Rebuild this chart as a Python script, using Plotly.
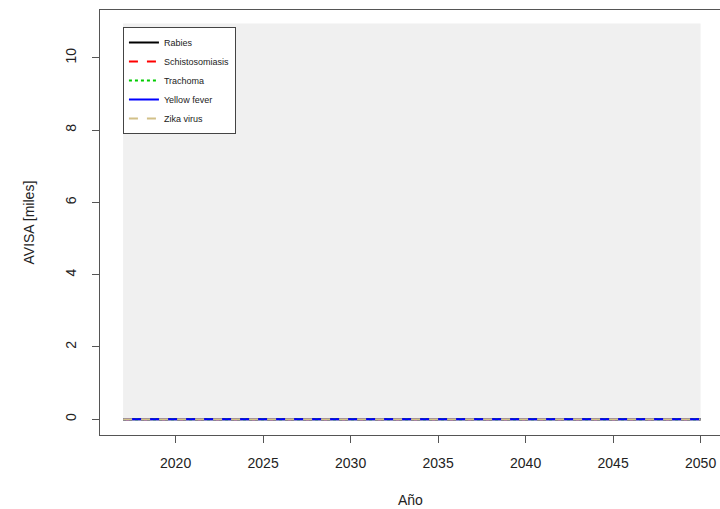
import plotly.graph_objects as go

# Projected burden per disease, in thousands of DALYs (AVISA), 2017-2050
years = list(range(2017, 2051))
rabies = [0.0] * len(years)
schistosomiasis = [0.0] * len(years)
trachoma = [0.0] * len(years)
yellow_fever = [0.0] * len(years)
zika_virus = [0.0] * len(years)

y_upper = 10.95  # upper limit of the shaded panel
y_ticks = [0, 2, 4, 6, 8, 10]
x_ticks = [2020, 2025, 2030, 2035, 2040, 2045, 2050]

series = [
    ("Rabies", rabies, "#000000", "solid", 1),
    ("Schistosomiasis", schistosomiasis, "#ff0000", "dash", 2),
    ("Trachoma", trachoma, "#00cc00", "dot", 3),
    ("Zika virus", zika_virus, "#d2c088", "dash", 5),
    ("Yellow fever", yellow_fever, "#0000ff", "solid", 4),
]
# Yellow fever first so Zika's dashes sit on top of it
series = [series[0], series[1], series[2], series[4], series[3]]

fig = go.Figure()
for name, vals, color, dash, rank in series:
    fig.add_trace(go.Scatter(
        x=years, y=vals, mode="lines", name=name, legendrank=rank,
        line=dict(color=color, width=2, dash=dash),
    ))

# light grey panel spanning the data extent
fig.add_shape(type="rect", xref="x", yref="y",
              x0=min(years), x1=max(years), y0=0, y1=y_upper,
              fillcolor="#f0f0f0", line=dict(width=0), layer="below")

pad_x = 0.04 * (max(years) - min(years))
pad_y = 0.04 * y_upper
font = "Liberation Sans, Arial, sans-serif"

fig.update_layout(
    width=720, height=509,
    margin=dict(l=100, r=0, t=10, b=74),
    paper_bgcolor="white", plot_bgcolor="white",
    font=dict(family=font, size=14, color="#222222"),
    showlegend=True,
    legend=dict(
        x=0.037, y=0.96, xanchor="left", yanchor="top",
        bgcolor="white", bordercolor="#444444", borderwidth=1,
        font=dict(size=9, color="#222222"),
        traceorder="normal", tracegroupgap=0,
    ),
    xaxis=dict(
        range=[min(years) - pad_x, min(years) - pad_x + 620 / 17.5],
        tickvals=x_ticks, ticks="outside", ticklen=7, tickcolor="#555555",
        showline=True, linecolor="#555555", linewidth=1, mirror=True,
        showgrid=False, zeroline=False, ticklabelstandoff=8,
        tickfont=dict(size=14, color="#222222"),
    ),
    yaxis=dict(
        range=[-pad_y, -pad_y + 425 / 36.14],
        tickvals=y_ticks, ticks="outside", ticklen=7, tickcolor="#555555",
        showline=True, linecolor="#555555", linewidth=1, mirror=False,
        showgrid=False, zeroline=False, tickangle=-90, ticklabelstandoff=10,
        tickfont=dict(size=14, color="#222222"),
    ),
    annotations=[
        dict(text="Año", xref="paper", yref="paper", x=0.5, y=0,
             xanchor="center", yanchor="middle", yshift=-65, showarrow=False,
             font=dict(size=14, color="#222222")),
        dict(text="AVISA [miles]", xref="paper", yref="paper", x=0, y=0.5,
             xanchor="center", yanchor="middle", xshift=-72, textangle=-90,
             showarrow=False, font=dict(size=14, color="#222222")),
    ],
)

fig.write_html("out.html")
